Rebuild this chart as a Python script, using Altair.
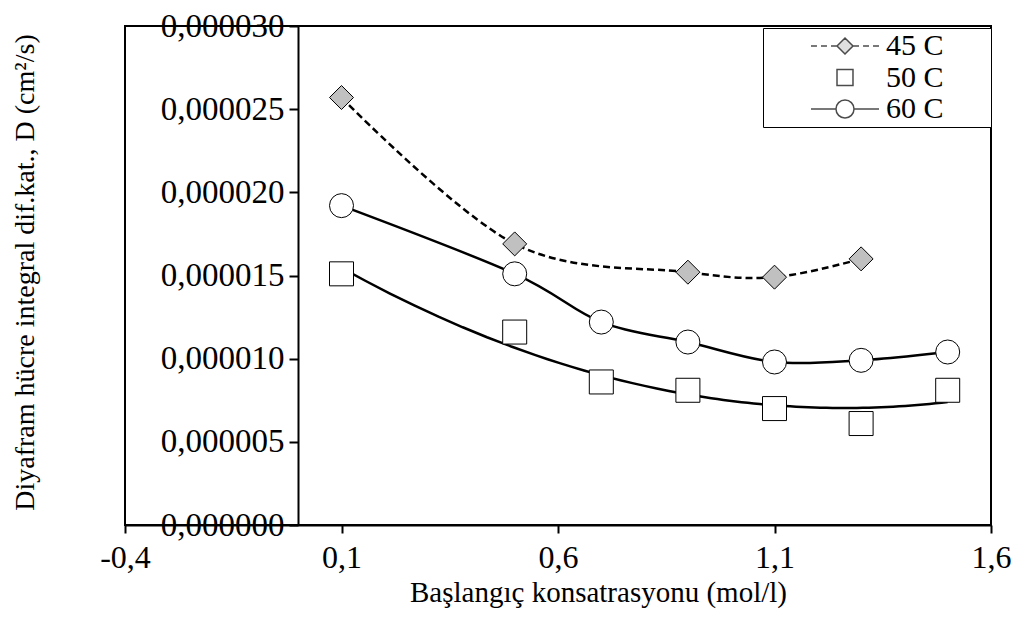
import altair as alt
import pandas as pd

series_names = ["45 C", "50 C", "60 C"]

x45 = [0.1, 0.5, 0.9, 1.1, 1.3]
y45 = [0.0000257, 0.0000169, 0.0000152, 0.0000149, 0.0000160]

x50 = [0.1, 0.5, 0.7, 0.9, 1.1, 1.3, 1.5]
y50 = [0.0000151, 0.0000116, 0.0000086, 0.0000081, 0.0000070, 0.0000061, 0.0000081]

x60 = [0.1, 0.5, 0.7, 0.9, 1.1, 1.3, 1.5]
y60 = [0.0000192, 0.0000151, 0.0000122, 0.0000110, 0.0000098, 0.0000099, 0.0000104]

x_ticks = [-0.4, 0.1, 0.6, 1.1, 1.6]
y_ticks = [0, 0.000005, 0.00001, 0.000015, 0.00002, 0.000025, 0.00003]

rows = []
for name, xs, ys in [("45 C", x45, y45), ("50 C", x50, y50), ("60 C", x60, y60)]:
    rows += [{"series": name, "x": a, "y": b} for a, b in zip(xs, ys)]
df = pd.DataFrame(rows)

FONT = "Liberation Serif"

xenc = alt.X(
    "x:Q",
    scale=alt.Scale(domain=[-0.4, 1.6], nice=False, zero=False),
    axis=alt.Axis(
        values=x_ticks,
        title="Başlangıç konsatrasyonu (mol/l)",
        labelExpr="replace(replace(format(datum.value, '.1f'), '.', ','), '\u2212', '-')",
        labelFlush=False,
        labelFontSize=32,
        tickSize=8,
        labelPadding=24,
        labelBaseline="middle",
        titleBaseline="middle",
        titleX=473,
        titleY=67,
    ),
)
yenc = alt.Y(
    "y:Q",
    scale=alt.Scale(domain=[0, 0.00003], nice=False, zero=True),
    axis=alt.Axis(
        values=y_ticks,
        title="Diyafram hücre integral dif.kat., D (cm²/s)",
        labelExpr="replace(format(datum.value, '.6f'), '.', ',')",
        labelFontSize=33,
        offset=-173,
        tickSize=9,
        labelPadding=5,
        titleBaseline="middle",
        titleX=-273,
        titleY=246,
        titleAngle=270,
    ),
)

base = alt.Chart(df)

line45 = base.transform_filter(alt.datum.series == "45 C").mark_line(
    interpolate="cardinal", color="black", strokeWidth=2.5, strokeDash=[7, 4]
).encode(x=xenc, y=yenc)

line60 = base.transform_filter(alt.datum.series == "60 C").mark_line(
    interpolate="cardinal", color="black", strokeWidth=2.5
).encode(x=xenc, y=yenc)

reg50 = base.transform_filter(alt.datum.series == "50 C").transform_regression(
    "x", "y", method="poly", order=2, extent=[0.1, 1.5]
).mark_line(color="black", strokeWidth=2.5).encode(x=xenc, y=yenc)

points = base.mark_point(
    filled=True, size=576, stroke="black", strokeWidth=1, opacity=1
).encode(
    x=xenc,
    y=yenc,
    shape=alt.Shape(
        "series:N",
        scale=alt.Scale(domain=series_names, range=["diamond", "square", "circle"]),
        legend=None,
    ),
    fill=alt.Fill(
        "series:N",
        scale=alt.Scale(domain=series_names, range=["#c0c0c0", "white", "white"]),
        legend=None,
    ),
)

# legend glyphs: line + marker, normalised to [-1, 1]
p45 = ("M-1,0H-0.824M-0.706,0H-0.53M-0.412,0H-0.235"
       "M0.235,0H0.412M0.53,0H0.706M0.824,0H1"
       "M-0.235,0L0,-0.235L0.235,0L0,0.235Z")
p50 = "M-0.235,-0.235H0.235V0.235H-0.235Z"
p60 = ("M-1,0H-0.265M0.265,0H1"
       "M0.265,0A0.265,0.265 0 1,1 -0.265,0A0.265,0.265 0 1,1 0.265,0Z")

leg = alt.Legend(
    title=None,
    orient="none",
    legendX=638,
    legendY=2,
    symbolSize=4624,
    clipHeight=30,
    rowPadding=1.5,
    padding=3,
    symbolOffset=44,
    labelOffset=6,
    labelExpr="datum.label + '\u2800\u2800'",
    strokeColor="black",
    fillColor="white",
    symbolStrokeWidth=1.5,
)

legend_layer = base.transform_filter("false").mark_point(
    filled=True, stroke="black", strokeWidth=1.5, size=4624
).encode(
    x=xenc,
    y=yenc,
    shape=alt.Shape(
        "series:N",
        scale=alt.Scale(domain=series_names, range=[p45, p50, p60]),
        legend=leg,
    ),
    fill=alt.Fill(
        "series:N",
        scale=alt.Scale(domain=series_names, range=["#c0c0c0", "white", "white"]),
        legend=leg,
    ),
)

chart = alt.layer(line45, line60, reg50, points, legend_layer).resolve_scale(
    shape="independent", fill="independent"
).properties(
    width=866,
    height=499,
    autosize=alt.AutoSizeParams(type="none"),
    padding={"left": 117, "top": 18, "right": 20, "bottom": 90},
).configure_view(
    stroke="black", strokeWidth=2
).configure_axis(
    grid=False,
    domainColor="black",
    domainWidth=2,
    tickColor="black",
    tickWidth=2,
    labelColor="black",
    labelFont=FONT,
    titleColor="black",
    titleFont=FONT,
    titleFontWeight="normal",
).configure_axisX(
    titleFontSize=29,
).configure_axisY(
    titleFontSize=28,
).configure_legend(
    labelFont=FONT,
    labelFontSize=30,
    labelColor="black",
)

chart.save("out.html", embed_options={"renderer": "svg", "actions": False})
